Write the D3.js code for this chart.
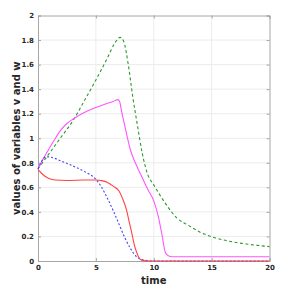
<!DOCTYPE html>
<html>
<head>
<meta charset="utf-8">
<script src="https://cdn.jsdelivr.net/npm/d3@7"></script>
<style>
  body { margin: 0; background: #fff; }
  text { font-family: "DejaVu Sans", sans-serif; font-weight: bold; fill: #262626; }
</style>
</head>
<body>
<div id="svgid"></div>
<script>
var width = 298, height = 295

// tick labels
var xTicks = [0, 5, 10, 15, 20]
var yTicks = [0, 0.2, 0.4, 0.6, 0.8, 1, 1.2, 1.4, 1.6, 1.8, 2]

// series (time, value)
var greenT = [0, 0.5, 1, 1.5, 2, 3, 4, 5, 6, 6.6, 7.1, 7.4, 7.8, 8.2, 8.6, 9, 9.5, 10, 11, 12, 13, 14, 15, 16, 17, 18, 19, 20]
var greenV = [0.75, 0.815, 0.88, 0.945, 1.01, 1.14, 1.305, 1.475, 1.655, 1.77, 1.822, 1.79, 1.6, 1.33, 1.1, 0.88, 0.7, 0.62, 0.47, 0.35, 0.29, 0.235, 0.198, 0.172, 0.153, 0.138, 0.127, 0.117]

var magentaT = [0, 0.5, 0.9, 1.5, 2, 2.5, 3, 4, 5, 6, 6.5, 6.9, 7.05, 7.2, 7.5, 8, 8.5, 9, 9.5, 10, 10.4, 10.7, 11, 11.3, 11.6, 20]
var magentaV = [0.75, 0.84, 0.905, 1.0, 1.07, 1.12, 1.155, 1.21, 1.25, 1.285, 1.3, 1.315, 1.30, 1.23, 1.1, 0.9, 0.78, 0.68, 0.58, 0.49, 0.36, 0.22, 0.07, 0.04, 0.035, 0.035]

var blueT = [0, 0.3, 0.7, 1, 2, 3, 4, 5, 5.5, 6, 6.5, 7, 7.5, 8, 8.4, 8.8, 9.3, 10, 20]
var blueV = [0.75, 0.81, 0.85, 0.848, 0.815, 0.775, 0.73, 0.665, 0.6, 0.51, 0.41, 0.3, 0.19, 0.1, 0.045, 0.018, 0.005, 0, 0]

var redT = [0, 0.3, 0.6, 1, 1.5, 2.5, 4, 5, 5.5, 6, 6.5, 7, 7.3, 7.65, 7.9, 8.1, 8.3, 8.45, 8.7, 9, 9.5, 20]
var redV = [0.745, 0.715, 0.69, 0.67, 0.66, 0.656, 0.66, 0.66, 0.655, 0.64, 0.61, 0.57, 0.51, 0.415, 0.31, 0.23, 0.14, 0.09, 0.03, 0.005, 0, 0]

var series = [
  { t: greenT, v: greenV, color: "#2b982b", dash: "3,2.5" },
  { t: magentaT, v: magentaV, color: "#ff55ff", dash: null },
  { t: blueT, v: blueV, color: "#4545ff", dash: "2,2" },
  { t: redT, v: redV, color: "#ff4242", dash: null }
]

var margin = { left: 38, right: 28.5, top: 15.5, bottom: 34 }

var x = d3.scaleLinear().domain([0, 20]).range([margin.left, width - margin.right])
var y = d3.scaleLinear().domain([0, 2]).range([height - margin.bottom, margin.top])

var svg = d3.select("#svgid").append("svg")
  .attr("width", width)
  .attr("height", height)

// grid
svg.append("g").selectAll("line.gx")
  .data(xTicks.slice(1, -1))
  .enter().append("line")
    .attr("x1", function(d) { return x(d) }).attr("x2", function(d) { return x(d) })
    .attr("y1", y(0)).attr("y2", y(2))
    .attr("stroke", "#ececec").attr("stroke-width", 1)
svg.append("g").selectAll("line.gy")
  .data(yTicks.slice(1, -1))
  .enter().append("line")
    .attr("y1", function(d) { return y(d) }).attr("y2", function(d) { return y(d) })
    .attr("x1", x(0)).attr("x2", x(20))
    .attr("stroke", "#ececec").attr("stroke-width", 1)

// axes
var fmt = function(d) { return d3.format("")(+d.toFixed(1)) }
var axL = svg.append("g").attr("transform", "translate(" + x(0) + ",0)")
  .call(d3.axisLeft(y).tickValues(yTicks).tickSize(-3).tickPadding(4).tickFormat(fmt))
var axB = svg.append("g").attr("transform", "translate(0," + y(0) + ")")
  .call(d3.axisBottom(x).tickValues(xTicks).tickSize(-3).tickPadding(4).tickFormat(fmt))
var axR = svg.append("g").attr("transform", "translate(" + x(20) + ",0)")
  .call(d3.axisRight(y).tickValues(yTicks).tickSize(-3).tickFormat(""))
var axT = svg.append("g").attr("transform", "translate(0," + y(2) + ")")
  .call(d3.axisTop(x).tickValues(xTicks).tickSize(-3).tickFormat(""))

;[axL, axB, axR, axT].forEach(function(a) {
  a.selectAll("path, line").attr("stroke", "#a6a6a6")
  a.selectAll("text").style("font-size", "7px").attr("fill", "#262626")
})

// curves
var line = d3.line()
  .x(function(d) { return x(d[0]) })
  .y(function(d) { return y(d[1]) })
  .curve(d3.curveMonotoneX)

series.forEach(function(s) {
  var pts = s.t.map(function(t, i) { return [t, s.v[i]] })
  svg.append("path")
    .datum(pts)
    .attr("d", line)
    .attr("fill", "none")
    .attr("stroke", s.color)
    .attr("stroke-width", 1.1)
    .attr("stroke-dasharray", s.dash)
})

// labels
svg.append("text")
  .attr("x", (x(0) + x(20)) / 2)
  .attr("y", 283.5)
  .attr("text-anchor", "middle")
  .style("font-size", "10px")
  .text("time")

svg.append("text")
  .attr("transform", "translate(20," + (y(0) + y(2)) / 2 + ") rotate(-90)")
  .attr("text-anchor", "middle")
  .style("font-size", "10px")
  .text("values of variables v and w")
</script>
</body>
</html>
